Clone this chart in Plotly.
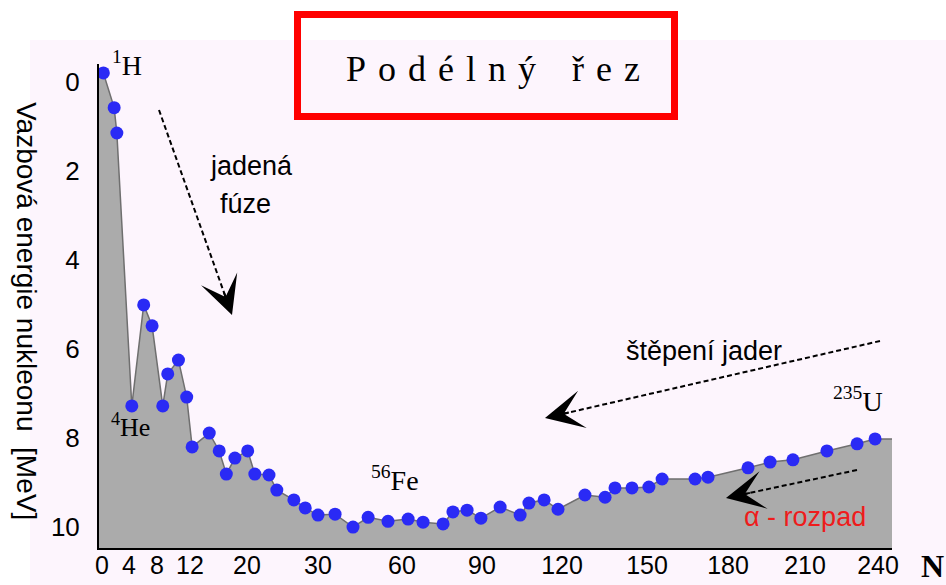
import numpy as np
import plotly.graph_objects as go

# Mass number (nucleon count) and binding energy per nucleon [MeV]
mass_number = [0.2, 1.8, 2.2, 4.4, 6.1, 7.3, 8.7, 9.3, 10.6, 11.6,
               12.3, 14.7, 16.1, 17.1, 18.3, 20.1, 21.1, 23.1, 24.2, 26.6,
               28.2, 30.0, 36.1, 42.5, 47.9, 55.0, 62.3, 67.9, 75.4, 79.1,
               84.4, 89.6, 96.8, 104.3, 107.6, 113.3, 118.5, 128.1, 135.2, 138.7,
               144.7, 150.7, 155.6, 167.8, 172.6, 187.8, 196.4, 205.3, 219.0, 231.4,
               238.8]
binding_energy = [-0.2, 0.58, 1.15, 7.28, 5.01, 5.48, 7.28, 6.56, 6.25, 7.08,
                  8.20, 7.89, 8.29, 8.81, 8.45, 8.29, 8.81, 8.83, 9.17, 9.39,
                  9.57, 9.73, 9.71, 10.0, 9.78, 9.87, 9.82, 9.89, 9.93, 9.66,
                  9.62, 9.80, 9.55, 9.73, 9.46, 9.39, 9.60, 9.28, 9.33, 9.12,
                  9.12, 9.10, 8.92, 8.92, 8.88, 8.67, 8.54, 8.49, 8.29, 8.13,
                  8.02]

# Tick labels of the (non-uniform) N axis and the y axis
x_tick_labels = [0, 4, 8, 12, 20, 30, 60, 90, 120, 150, 180, 210, 240]
y_tick_values = [0, 2, 4, 6, 8, 10]

# Piecewise-linear scale: the first 30 nucleons are stretched
SCALE_POS = [0, 27, 55, 88, 145, 216, 300, 380, 460, 545, 626, 703, 776]
X_MIN, X_MAX = -3, 790
Y_TOP, Y_FLOOR = -0.40, 10.47


def scale_x(a):
    return np.interp(np.asarray(a, dtype=float), x_tick_labels, SCALE_POS)


xs = scale_x(mass_number)
tick_pos = scale_x(x_tick_labels)

# Canvas geometry (for decorations placed in paper coordinates)
W, H = 946, 585
ML, MR, MT, MB = 99, 54, 64, 37
PW, PH = W - ML - MR, H - MT - MB


def px(x):
    return (x - ML) / PW


def py(y):
    return (H - MB - y) / PH


BG = "#fdf5fd"
SANS = "Liberation Sans, Arial, sans-serif"
SERIF = "Liberation Serif, Times New Roman, serif"

fig = go.Figure()

# baseline at the bottom of the plot for the grey area
fig.add_trace(go.Scatter(x=[X_MIN, X_MAX], y=[Y_FLOOR, Y_FLOOR], mode="lines",
                         line=dict(width=0), hoverinfo="skip", showlegend=False))
# grey area under the binding-energy curve
fill_x = [X_MIN] + list(xs) + [X_MAX]
fill_y = [binding_energy[0]] + list(binding_energy) + [binding_energy[-1]]
fig.add_trace(go.Scatter(x=fill_x, y=fill_y, mode="lines", fill="tonexty",
                         fillcolor="#ababab", line=dict(color="#6f6f6f", width=1.5),
                         hoverinfo="skip", showlegend=False))
# nuclides
fig.add_trace(go.Scatter(x=xs, y=binding_energy, mode="markers",
                         marker=dict(size=13, color="#2a2af5", line=dict(width=0)),
                         showlegend=False))

annotations = []


def label(text, x, y, size=27, family=SANS, color="black", **kw):
    annotations.append(dict(text=text, x=px(x), y=py(y), xref="paper", yref="paper",
                            showarrow=False, xanchor="center", yanchor="middle",
                            font=dict(size=size, family=family, color=color), **kw))


sp = "\u2004"
title = sp.join("Podélný") + sp * 3 + sp.join("řez")

label("<sup>1</sup>H", 127, 63, size=28, family=SERIF)
label("<sup>4</sup>He", 130, 425, size=26, family=SERIF)
label("<sup>56</sup>Fe", 395, 478, size=28, family=SERIF)
label("<sup>235</sup>U", 858, 399, size=28, family=SERIF)
label("jadená", 251, 166)
label("fúze", 245, 204)
label("štěpení jader", 704, 351)
label("α - rozpad", 805, 517, color="#ee1c1c")
label("<b>N</b>", 933, 566, size=32, family=SERIF)
label(title, 493, 69, size=36, family=SERIF)
label("Vazbová energie nukleonu\u00a0\u00a0[MeV]", 27, 311, size=28, textangle=90)

shapes = [
    # page background
    dict(type="rect", xref="paper", yref="paper", x0=px(30), x1=px(W + 5),
         y0=py(40), y1=py(H + 5), fillcolor=BG, line=dict(width=0), layer="below"),
    # title frame
    dict(type="rect", xref="paper", yref="paper", x0=px(297.5), x1=px(674.5),
         y0=py(14.5), y1=py(116.5), line=dict(color="#ff0000", width=7),
         fillcolor="rgba(0,0,0,0)"),
]

# dashed arrows: (tail x, tail y, tip x, tip y)
arrows = [(159, 110, 232, 315), (880, 341, 545, 418), (857, 470, 726, 498)]
for tx, ty, hx, hy in arrows:
    d = np.hypot(hx - tx, hy - ty)
    ux, uy = (hx - tx) / d, (hy - ty) / d
    shapes.append(dict(type="line", xref="paper", yref="paper",
                       x0=px(tx), y0=py(ty), x1=px(hx - 14 * ux), y1=py(hy - 14 * uy),
                       line=dict(color="black", width=2, dash="5px,3px")))
    annotations.append(dict(x=px(hx), y=py(hy), xref="paper", yref="paper", text="",
                            showarrow=True, ax=-26 * ux, ay=-26 * uy,
                            arrowhead=3, arrowsize=3.2, arrowwidth=2,
                            arrowcolor="black", standoff=0))

fig.update_layout(
    width=W, height=H,
    margin=dict(l=ML, r=MR, t=MT, b=MB, pad=0),
    paper_bgcolor="white", plot_bgcolor=BG,
    shapes=shapes, annotations=annotations,
    xaxis=dict(range=[X_MIN, X_MAX], tickvals=tick_pos, ticktext=[str(t) for t in x_tick_labels],
               showgrid=False, zeroline=False, showline=True, linecolor="black", linewidth=2,
               ticks="", automargin=False, ticklabelstandoff=-6,
               tickfont=dict(size=25, family=SANS, color="black")),
    yaxis=dict(range=[Y_FLOOR, Y_TOP], tickvals=y_tick_values,
               showgrid=False, zeroline=False, showline=True, linecolor="black", linewidth=2,
               ticks="outside", ticklen=12, tickcolor="rgba(0,0,0,0)", automargin=False,
               tickfont=dict(size=26, family=SANS, color="black")),
    showlegend=False,
)

fig.write_html("out.html")
